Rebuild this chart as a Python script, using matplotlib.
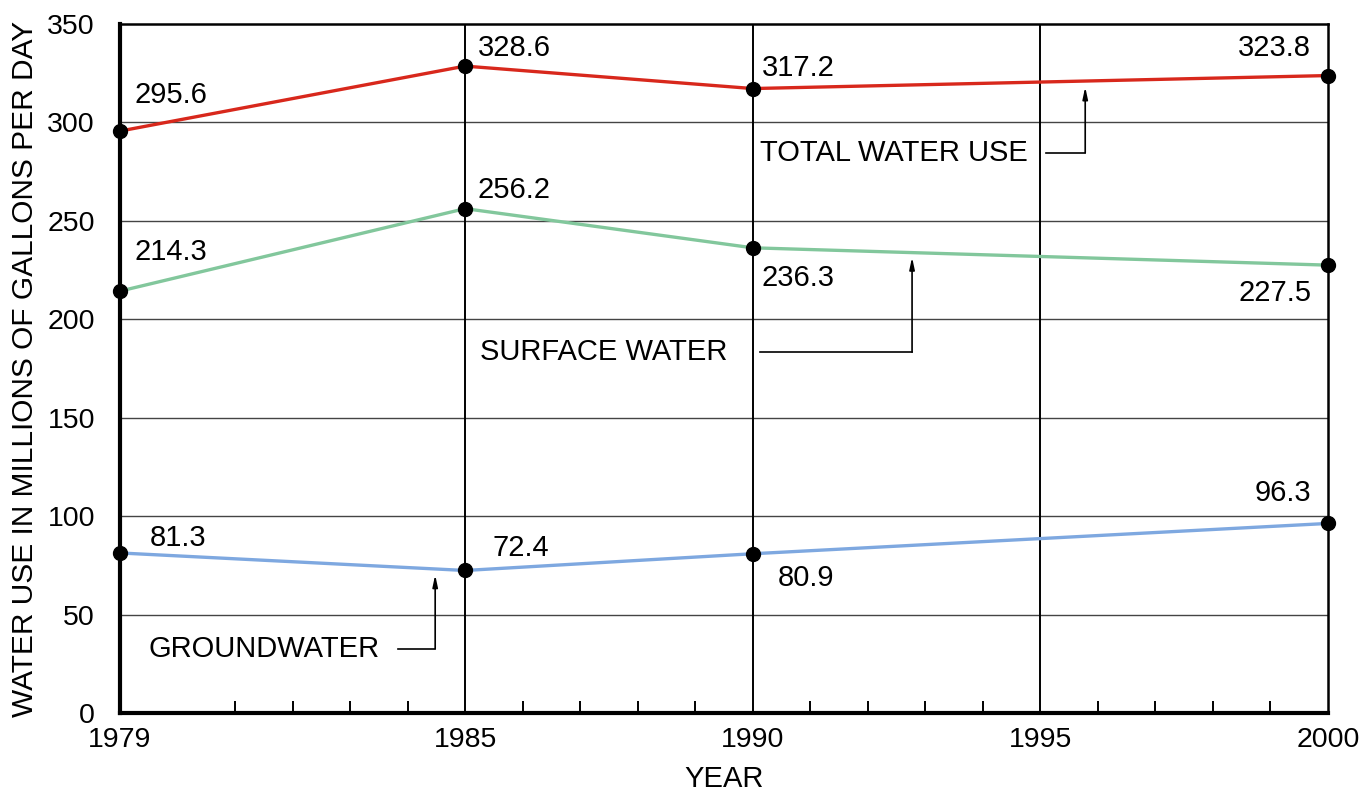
import matplotlib
matplotlib.use("Agg")
import matplotlib.pyplot as plt
from matplotlib.ticker import FixedLocator

plt.rcParams['font.family'] = ['Liberation Sans', 'DejaVu Sans']

years = [1979, 1985, 1990, 2000]
total = [295.6, 328.6, 317.2, 323.8]
surface = [214.3, 256.2, 236.3, 227.5]
ground = [81.3, 72.4, 80.9, 96.3]
xticks = [1979, 1985, 1990, 1995, 2000]
yticks = [0, 50, 100, 150, 200, 250, 300, 350]

fig = plt.figure(figsize=(13.63, 7.94), dpi=100)
ax = fig.add_axes([0.088, 0.102, 0.8863, 0.8678])
ax.set_xlim(1979, 2000)
ax.set_ylim(0, 350)

# grid
for y in yticks[1:-1]:
    ax.axhline(y, color='#444444', lw=1.0, zorder=1)
for x in [1985, 1990, 1995]:
    ax.axvline(x, color='black', lw=1.4, zorder=1)

FS = 21
lw = 2.4
for vals, col in [(total, '#d8281c'), (surface, '#82c79c'), (ground, '#7ea8e0')]:
    ax.plot(years, vals, color=col, lw=lw, zorder=3, solid_capstyle='butt')
    ax.plot(years, vals, 'o', color='black', ms=10, zorder=4, clip_on=False)

# value labels
def lab(x, y, s):
    ax.text(x, y, s, fontsize=FS, ha='left', va='center', zorder=5)

lab(1979.26, 314.0, f"{total[0]}")
lab(1985.22, 338.0, f"{total[1]}")
lab(1990.16, 327.8, f"{total[2]}")
lab(1998.44, 338.0, f"{total[3]}")
lab(1979.26, 234.0, f"{surface[0]}")
lab(1985.22, 265.8, f"{surface[1]}")
lab(1990.16, 221.0, f"{surface[2]}")
lab(1998.44, 213.4, f"{surface[3]}")
lab(1979.52, 88.7, f"{ground[0]}")
lab(1985.47, 84.0, f"{ground[1]}")
lab(1990.44, 68.4, f"{ground[2]}")
lab(1998.73, 111.6, f"{ground[3]}")

# series labels with leader lines
def leader(tx, ty, text, x0, x1, ytip):
    ax.text(tx, ty, text, fontsize=FS, ha='left', va='center', zorder=5)
    ax.plot([x0, x1], [ty, ty], color='black', lw=1.2, zorder=5)
    ax.annotate('', xy=(x1, ytip), xytext=(x1, ty),
                arrowprops=dict(arrowstyle='-|>,head_length=0.7,head_width=0.15',
                                color='black', lw=1.2, shrinkA=0, shrinkB=0),
                zorder=5)

leader(1990.13, 284.6, "TOTAL WATER USE", 1995.1, 1995.78, 318.0)
leader(1985.26, 183.3, "SURFACE WATER", 1990.13, 1992.77, 231.5)
leader(1979.49, 32.7, "GROUNDWATER", 1983.83, 1984.48, 70.2)

# ticks
ax.set_xticks(xticks)
ax.set_yticks(yticks)
ax.xaxis.set_minor_locator(FixedLocator([y for y in range(1980, 2000) if y % 5 != 0]))
ax.tick_params(axis='both', which='major', length=0, labelsize=20.5, pad=10)
ax.tick_params(axis='y', which='major', pad=18)
ax.tick_params(axis='x', which='minor', direction='in', length=9, width=1.4, top=False)

for side, w in [('left', 3), ('bottom', 3), ('top', 1.8), ('right', 1.8)]:
    ax.spines[side].set_linewidth(w)
    ax.spines[side].set_color('black')

ax.set_xlabel("YEAR", fontsize=FS, labelpad=9)
ax.set_ylabel("WATER USE IN MILLIONS OF GALLONS PER DAY", fontsize=21.5, labelpad=6)

fig.savefig("out.png", dpi=100)
